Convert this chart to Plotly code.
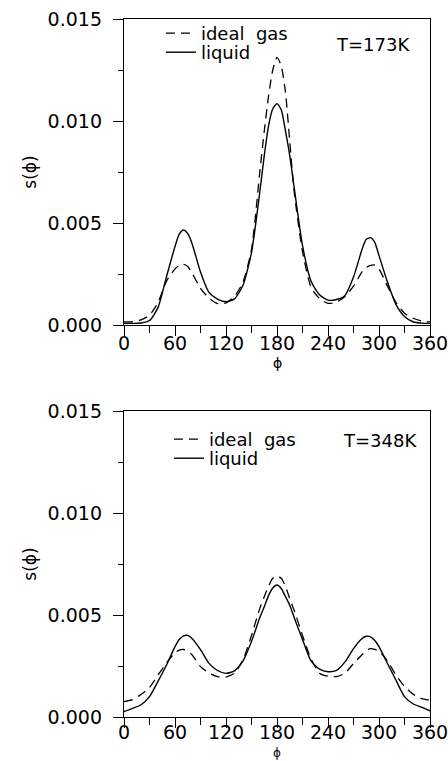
import plotly.graph_objects as go

# torsion angle grid (degrees)
phi = [0, 10, 20, 30, 40, 50, 60, 65, 70, 75, 80, 90, 100, 110, 120, 130, 140, 150,
       160, 165, 170, 175, 180, 185, 190, 195, 200, 210, 220, 230, 240, 250, 260,
       270, 280, 285, 290, 295, 300, 310, 320, 330, 340, 350, 360]

# T = 173 K
liquid_173 = [0.00008, 0.00008, 0.00010, 0.00022, 0.00085, 0.00237, 0.00385, 0.00445,
              0.00466, 0.00448, 0.00400, 0.00260, 0.00160, 0.00127, 0.00114, 0.00128,
              0.00195, 0.00355, 0.00660, 0.00830, 0.00975, 0.01060, 0.01085, 0.01055,
              0.00950, 0.00830, 0.00680, 0.00390, 0.00215, 0.00148, 0.00122, 0.00125,
              0.00145, 0.00235, 0.00370, 0.00420, 0.00428, 0.00405, 0.00340, 0.00210,
              0.00100, 0.00042, 0.00016, 0.00009, 0.00008]
gas_173 = [0.00015, 0.00016, 0.00025, 0.00048, 0.00110, 0.00215, 0.00275, 0.00292,
           0.00297, 0.00287, 0.00255, 0.00180, 0.00132, 0.00105, 0.00108, 0.00140,
           0.00210, 0.00370, 0.00760, 0.00950, 0.01120, 0.01250, 0.01312, 0.01270,
           0.01140, 0.00900, 0.00660, 0.00360, 0.00185, 0.00130, 0.00106, 0.00112,
           0.00140, 0.00190, 0.00260, 0.00282, 0.00292, 0.00294, 0.00275, 0.00190,
           0.00110, 0.00058, 0.00033, 0.00020, 0.00015]

# T = 348 K
liquid_348 = [0.00026, 0.00042, 0.00060, 0.00100, 0.00175, 0.00255, 0.00345, 0.00380,
              0.00398, 0.00400, 0.00385, 0.00330, 0.00263, 0.00228, 0.00214, 0.00226,
              0.00275, 0.00370, 0.00490, 0.00540, 0.00595, 0.00632, 0.00647, 0.00630,
              0.00590, 0.00548, 0.00490, 0.00380, 0.00275, 0.00235, 0.00222, 0.00228,
              0.00270, 0.00335, 0.00385, 0.00396, 0.00393, 0.00375, 0.00345, 0.00262,
              0.00180, 0.00100, 0.00065, 0.00048, 0.00030]
gas_348 = [0.00075, 0.00085, 0.00110, 0.00145, 0.00205, 0.00265, 0.00315, 0.00328,
           0.00331, 0.00323, 0.00305, 0.00247, 0.00215, 0.00198, 0.00196, 0.00215,
           0.00280, 0.00400, 0.00535, 0.00590, 0.00640, 0.00680, 0.00692, 0.00680,
           0.00640, 0.00580, 0.00525, 0.00400, 0.00285, 0.00215, 0.00200, 0.00198,
           0.00215, 0.00262, 0.00305, 0.00325, 0.00335, 0.00332, 0.00322, 0.00275,
           0.00205, 0.00150, 0.00112, 0.00090, 0.00083]

x_ticks = [0, 60, 120, 180, 240, 300, 360]
y_ticks = [0.0, 0.005, 0.010, 0.015]
y_ticklabels = ["0.000", "0.005", "0.010", "0.015"]
temps = ["T=173K", "T=348K"]
series_names = ["ideal  gas", "liquid"]

FONT = "DejaVu Sans"
W, H = 448, 761
L, R, T, B = 124, 17.5, 19, 44
plot_h = H - T - B
top_lo = (717 - 325) / plot_h
bot_hi = (717 - 411) / plot_h


def py(pix):
    """page pixel row -> paper fraction"""
    return (H - B - pix) / plot_h


def px(pix):
    return (pix - L) / (W - L - R)


fig = go.Figure()

DASH = "9px,6px"
panels = [("x", "y", "legend", "legend2", gas_173, liquid_173),
          ("x2", "y2", "legend3", "legend4", gas_348, liquid_348)]
for xa, ya, lg_g, lg_l, gas, liq in panels:
    fig.add_trace(go.Scatter(x=phi, y=gas, mode="lines", name=series_names[0],
                             xaxis=xa, yaxis=ya, legend=lg_g,
                             line=dict(color="black", width=1.3, dash=DASH, shape="spline", smoothing=0.6)))
    fig.add_trace(go.Scatter(x=phi, y=liq, mode="lines", name=series_names[1],
                             xaxis=xa, yaxis=ya, legend=lg_l,
                             line=dict(color="black", width=1.4, shape="spline", smoothing=0.6)))

xaxis_common = dict(range=[0, 360], tickvals=x_ticks, ticks="outside", ticklen=10, tickwidth=1,
                    minor=dict(dtick=30, ticks="outside", ticklen=7, tickwidth=1, tickcolor="black"),
                    showline=True, linecolor="black", linewidth=1.4, mirror=True,
                    showgrid=False, zeroline=False, tickcolor="black", automargin=False,
                    ticklabeloverflow="allow",
                    tickfont=dict(family=FONT, size=19, color="black"))
yaxis_common = dict(range=[0, 0.015], tickvals=y_ticks, ticktext=y_ticklabels, ticks="outside",
                    ticklen=10, tickwidth=1, tickcolor="black", ticklabelstandoff=7, automargin=False,
                    ticklabeloverflow="allow",
                    minor=dict(dtick=0.0025, ticks="outside", ticklen=5, tickwidth=1, tickcolor="black"),
                    showline=True, linecolor="black", linewidth=1.4, mirror=True,
                    showgrid=False, zeroline=False,
                    tickfont=dict(family=FONT, size=19, color="black"),
                    title=dict(text="s(ϕ)", font=dict(family=FONT, size=17, color="black"), standoff=6))

legend_style = dict(xref="paper", yref="paper", xanchor="left", yanchor="top",
                    bgcolor="rgba(0,0,0,0)", font=dict(family=FONT, size=18, color="black"),
                    tracegroupgap=0, itemwidth=30)

fig.update_layout(
    width=W, height=H, autosize=False,
    margin=dict(l=L, r=R, t=T, b=B),
    paper_bgcolor="white", plot_bgcolor="white",
    xaxis=dict(domain=[0, 1], anchor="y", ticklabelstandoff=-9, **xaxis_common),
    yaxis=dict(domain=[top_lo, 1], anchor="x", **yaxis_common),
    xaxis2=dict(domain=[0, 1], anchor="y2", ticklabelstandoff=-12, **xaxis_common),
    yaxis2=dict(domain=[0, bot_hi], anchor="x2", **yaxis_common),
    legend=dict(x=px(161), y=py(35 - 20), **legend_style),
    legend2=dict(x=px(161), y=py(53 - 19), **legend_style),
    legend3=dict(x=px(169), y=py(440 - 19), **legend_style),
    legend4=dict(x=px(169), y=py(459 - 19), **legend_style),
    showlegend=True,
)

fig.add_annotation(text=temps[0], xref="x domain", yref="y domain", x=(373 - 124) / 306.5,
                   y=(325 - 44) / 306, xanchor="center", yanchor="middle",
                   showarrow=False, font=dict(family=FONT, size=18, color="black"))
fig.add_annotation(text=temps[1], xref="x2 domain", yref="y2 domain", x=(380 - 124) / 306.5,
                   y=(717 - 440) / 306, xanchor="center", yanchor="middle",
                   showarrow=False, font=dict(family=FONT, size=18, color="black"))
# x-axis titles
fig.add_annotation(text="ϕ", xref="x domain", yref="paper", x=0.5, y=py(363),
                   xanchor="center", yanchor="middle", showarrow=False,
                   font=dict(family=FONT, size=14, color="black"))
fig.add_annotation(text="ϕ", xref="x2 domain", yref="paper", x=0.5, y=py(753),
                   xanchor="center", yanchor="middle", showarrow=False,
                   font=dict(family=FONT, size=12, color="black"))

fig.write_html("out.html", config={"displayModeBar": False},
               post_script="document.body.style.margin='0';")
